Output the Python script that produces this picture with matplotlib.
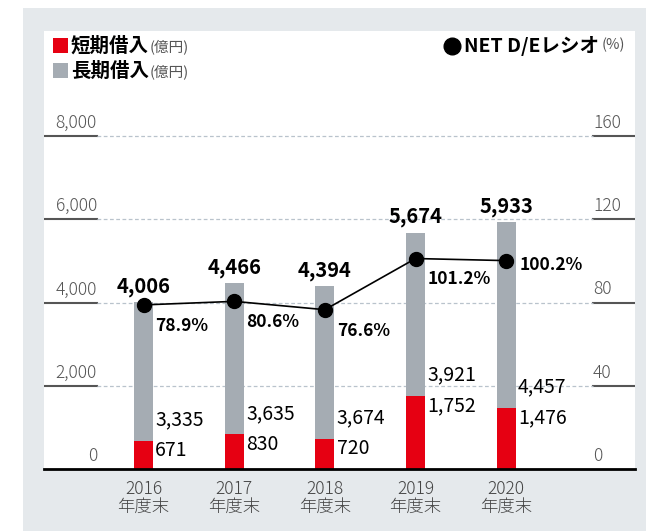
import matplotlib
matplotlib.use('Agg')
import matplotlib.pyplot as plt
from matplotlib.patches import Rectangle

plt.rcParams['font.family'] = ['Noto Sans CJK JP', 'DejaVu Sans']

# data
years = ['2016', '2017', '2018', '2019', '2020']
short_term = [671, 830, 720, 1752, 1476]
long_term = [3335, 3635, 3674, 3921, 4457]
totals = [4006, 4466, 4394, 5674, 5933]
de_ratio = [78.9, 80.6, 76.6, 101.2, 100.2]
left_ticks = [0, 2000, 4000, 6000, 8000]
right_ticks = [0, 40, 80, 120, 160]

RED = '#E60012'
GREY = '#A5ACB3'
PANEL = '#E5E9EC'

W, H = 646, 531
fig = plt.figure(figsize=(W / 100, H / 100), dpi=100)
fig.patches.append(Rectangle((23 / W, 0), 1, (H - 8) / H, transform=fig.transFigure,
                             facecolor=PANEL, edgecolor='none', zorder=-10))

ax = fig.add_axes([44 / W, (H - 469) / H, (635 - 44) / W, (469 - 31) / H])
ax.set_facecolor('white')
for s in ax.spines.values():
    s.set_visible(False)

x = list(range(len(years)))
ax.set_xlim(-1.098, 5.42)
ax.set_ylim(0, 10530)

ax.bar(x, short_term, width=0.21, color=RED, zorder=2)
ax.bar(x, long_term, width=0.21, bottom=short_term, color=GREY, zorder=2)

# grid lines
yt = ax.get_yaxis_transform()
lx, rx = (97 - 44) / 591, (593 - 44) / 591
for v, rv in zip(left_ticks, right_ticks):
    if v == 0:
        ax.plot([0, 1], [0, 0], color='black', lw=2, transform=yt, zorder=3, clip_on=False)
    else:
        ax.plot([0, lx], [v, v], color='#555555', lw=1.5, transform=yt, zorder=1)
        ax.plot([rx, 1], [v, v], color='#555555', lw=1.5, transform=yt, zorder=1)
        ax.plot([lx, rx], [v, v], color='#B9C3CC', lw=0.9, ls=(0, (3, 2)),
                transform=yt, zorder=1)
    ax.annotate(f'{v:,}', (lx, v), xycoords=yt, xytext=(0, 3), textcoords='offset points',
                ha='right', va='bottom', fontsize=12.5, fontweight='light', color='#555555')
    ax.annotate(f'{rv}', (rx, v), xycoords=yt, xytext=(0, 3), textcoords='offset points',
                ha='left', va='bottom', fontsize=12.5, fontweight='light', color='#555555')

# NET D/E ratio line (right scale 160 <-> 8000)
ratio_y = [r * 50 for r in de_ratio]
ax.plot(x, ratio_y, color='black', lw=1.2, marker='o', markersize=10, zorder=4)

for i in x:
    top = totals[i]
    ax.annotate(f'{totals[i]:,}', (i, top), xytext=(0, 4), textcoords='offset points',
                ha='center', va='bottom', fontsize=14.5, fontweight='bold')
    red_top = short_term[i]
    ax.annotate(f'{long_term[i]:,}', (i + 0.13, red_top), xytext=(0, 15),
                textcoords='offset points', ha='left', va='center', fontsize=14)
    ax.annotate(f'{short_term[i]:,}', (i + 0.13, red_top), xytext=(0, -7),
                textcoords='offset points', ha='left', va='center', fontsize=14)
    if i == len(x) - 1:
        ax.annotate(f'{de_ratio[i]}%', (i + 0.13, ratio_y[i]), xytext=(1, -3),
                    textcoords='offset points', ha='left', va='center',
                    fontsize=12.5, fontweight='bold')
    else:
        ax.annotate(f'{de_ratio[i]}%', (i + 0.13, ratio_y[i]), xytext=(0, -15),
                    textcoords='offset points', ha='left', va='center',
                    fontsize=12.5, fontweight='bold')

ax.set_xticks(x)
ax.set_xticklabels([f'{y}\n年度末' for y in years], fontsize=12.5, fontweight='light',
                   color='#444444', linespacing=1.0)
ax.tick_params(axis='x', length=0, pad=8)
ax.set_yticks([])

# legend
fig.patches.append(Rectangle((53 / W, 1 - 53 / H), 15 / W, 15 / H, transform=fig.transFigure,
                             facecolor=RED, edgecolor='none'))
fig.patches.append(Rectangle((53 / W, 1 - 78 / H), 15 / W, 15 / H, transform=fig.transFigure,
                             facecolor=GREY, edgecolor='none'))
renderer = fig.canvas.get_renderer()
for label, yy in [('短期借入', 46), ('長期借入', 71)]:
    t = fig.text(71 / W, 1 - yy / H, label, fontsize=14, fontweight='bold', va='center')
    bb = t.get_window_extent(renderer)
    fig.text((bb.x1 + 1) / W, 1 - (yy + 1) / H, '(億円)', fontsize=10.5,
             color='#555555', va='center')

unit = fig.text(625 / W, 1 - 45 / H, '(%)', fontsize=10.5, color='#555555',
                va='center', ha='right')
ub = unit.get_window_extent(renderer)
name = fig.text((ub.x0 - 3) / W, 1 - 46 / H, 'NET D/Eレシオ', fontsize=14,
                fontweight='bold', va='center', ha='right')
nb = name.get_window_extent(renderer)
fig.lines.append(plt.Line2D([(nb.x0 - 12) / W], [1 - 46 / H], marker='o', markersize=12,
                            color='black', transform=fig.transFigure))

fig.savefig('out.png', dpi=100)
